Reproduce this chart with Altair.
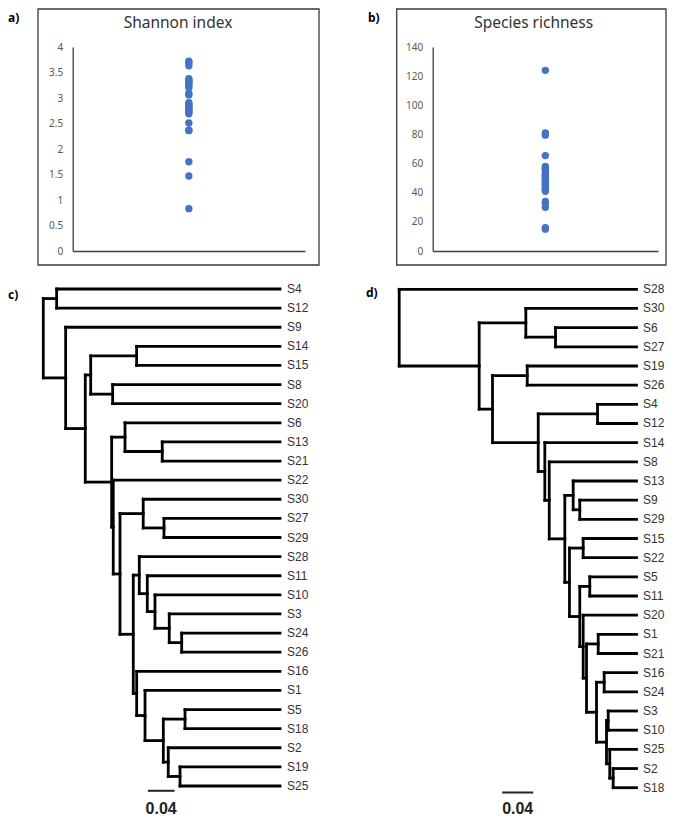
import altair as alt
import pandas as pd

# ---------------- data ----------------
shannon = [3.72, 3.69, 3.63, 3.38, 3.35, 3.32, 3.30, 3.28, 3.24, 3.20, 3.09, 3.06,
           2.91, 2.88, 2.86, 2.83, 2.80, 2.78, 2.75, 2.72, 2.69, 2.51, 2.37, 2.36,
           1.75, 1.47, 0.83]
richness = [124, 81, 79.5, 65.5, 58, 57, 56, 55, 53, 52, 51.5, 50, 49, 48.5, 47,
            46, 45.5, 44, 43, 42.5, 42, 41, 34, 33, 30, 16, 15]
shannon_ticks = [0, 0.5, 1, 1.5, 2, 2.5, 3, 3.5, 4]
richness_ticks = [0, 20, 40, 60, 80, 100, 120, 140]

leaves_c = ["S4", "S12", "S9", "S14", "S15", "S8", "S20", "S6", "S13", "S21", "S22",
            "S30", "S27", "S29", "S28", "S11", "S10", "S3", "S24", "S26", "S16", "S1",
            "S5", "S18", "S2", "S19", "S25"]
# (node, child1, child2, height)
merges_c = [
    ("c1", "S4", "S12", 0.3346),
    ("c2", "S14", "S15", 0.2148),
    ("c3", "S8", "S20", 0.2507),
    ("c4", "c2", "c3", 0.2836),
    ("c5", "S13", "S21", 0.1764),
    ("c6", "S6", "c5", 0.2322),
    ("c7", "S27", "S29", 0.1738),
    ("c8", "S30", "c7", 0.2049),
    ("c9", "S24", "S26", 0.1473),
    ("c10", "S3", "c9", 0.1659),
    ("c11", "S10", "c10", 0.1873),
    ("c12", "S11", "c11", 0.1988),
    ("c13", "S28", "c12", 0.2108),
    ("c14", "S5", "S18", 0.1423),
    ("c15", "S19", "S25", 0.1498),
    ("c16", "S2", "c15", 0.1674),
    ("c17", "c14", "c16", 0.1748),
    ("c18", "S1", "c17", 0.2022),
    ("c19", "S16", "c18", 0.2147),
    ("c20", "c13", "c19", 0.2198),
    ("c21", "c8", "c20", 0.2397),
    ("c22", "S22", "c21", 0.2498),
    ("c23", "c6", "c22", 0.2522),
    ("c24", "c4", "c23", 0.2917),
    ("c25", "S9", "c24", 0.3211),
    ("c26", "c1", "c25", 0.3546),
]

leaves_d = ["S28", "S30", "S6", "S27", "S19", "S26", "S4", "S12", "S14", "S8", "S13",
            "S9", "S29", "S15", "S22", "S5", "S11", "S20", "S1", "S21", "S16", "S24",
            "S3", "S10", "S25", "S2", "S18"]
merges_d = [
    ("d1", "S6", "S27", 0.1045),
    ("d2", "S30", "d1", 0.1428),
    ("d3", "S19", "S26", 0.1410),
    ("d4", "S4", "S12", 0.0503),
    ("d5", "S9", "S29", 0.0732),
    ("d6", "S13", "d5", 0.0817),
    ("d7", "S15", "S22", 0.0688),
    ("d8", "S5", "S11", 0.0603),
    ("d9", "S1", "S21", 0.0494),
    ("d10", "S16", "S24", 0.0417),
    ("d11", "S3", "S10", 0.0365),
    ("d12", "S2", "S18", 0.0301),
    ("d13", "S25", "d12", 0.0345),
    ("d14", "d11", "d13", 0.0387),
    ("d15", "d10", "d14", 0.0516),
    ("d16", "d9", "d15", 0.0645),
    ("d17", "S20", "d16", 0.0688),
    ("d18", "d8", "d17", 0.0732),
    ("d19", "d7", "d18", 0.0865),
    ("d20", "d6", "d19", 0.0925),
    ("d21", "S8", "d20", 0.1126),
    ("d22", "S14", "d21", 0.1183),
    ("d23", "d4", "d22", 0.1268),
    ("d24", "d3", "d23", 0.1858),
    ("d25", "d2", "d24", 0.2030),
    ("d26", "S28", "d25", 0.3062),
]

SCALE_BAR = 0.04
bar_c_start, bar_c_row, text_c_row = 0.198, 26.25, 27.2
bar_d_start, bar_d_row, text_d_row = 0.1733, 26.25, 27.12

# ---------------- layout ----------------
W, H = 659, 812
FONT = "Noto Sans"
LABEL_FONT = "Liberation Sans"


def dendro_segments(leaves, merges):
    ypos = {n: float(i) for i, n in enumerate(leaves)}
    hgt = {n: 0.0 for n in leaves}
    segs = []
    for node, a, b, h in merges:
        for ch in (a, b):
            segs.append(dict(x=hgt[ch], x2=h, y=ypos[ch], y2=ypos[ch]))
        segs.append(dict(x=h, x2=h, y=ypos[a], y2=ypos[b]))
        ypos[node] = (ypos[a] + ypos[b]) / 2
        hgt[node] = h
    return pd.DataFrame(segs)


def one():
    return pd.DataFrame({"k": [0]})


def frame(x0, x1, y0, y1):
    return alt.Chart(one()).mark_rect(filled=False, stroke="#3a3a3a", strokeWidth=1.3).encode(
        x=alt.value(x0), x2=alt.value(x1), y=alt.value(y0), y2=alt.value(y1))


def label(txt, x, y, size=12, weight="bold", font=FONT, align="left", color="#000", baseline="middle"):
    return alt.Chart(pd.DataFrame({"t": [txt]})).mark_text(
        font=font, fontSize=size, fontWeight=weight, align=align, baseline=baseline, color=color
    ).encode(x=alt.value(x), y=alt.value(y), text="t:N")


def scatter(values, ticks, fmt, xr, yr):
    df = pd.DataFrame({"x": [1] * len(values), "v": values})
    return alt.Chart(df).mark_circle(size=54, color="#4472C4", opacity=1).encode(
        x=alt.X("x:Q", scale=alt.Scale(domain=[0, 2], range=xr, nice=False, zero=False),
                axis=alt.Axis(orient="bottom", offset=-(H - yr[0]), labels=False, ticks=False,
                              grid=False, title=None, domainColor="#404040", domainWidth=1.3)),
        y=alt.Y("v:Q", scale=alt.Scale(domain=[ticks[0], ticks[-1]], range=yr, nice=False, zero=False),
                axis=alt.Axis(orient="left", offset=-xr[0], values=ticks, format=fmt, ticks=False,
                              tickSize=0, labelPadding=10, grid=False, title=None,
                              domainColor="#404040", domainWidth=1.3, labelFont=FONT,
                              labelFontSize=10, labelColor="#595959", labelFlush=False,
                              labelOverlap=False, labelBound=False)),
    )


def dendro(leaves, merges, xr, yr, bar_start, bar_row, text_row, dx):
    hroot = merges[-1][3]
    xs = alt.Scale(domain=[0, hroot], range=xr, nice=False, zero=False)
    ys = alt.Scale(domain=[0, len(leaves) - 1], range=yr, nice=False, zero=False)
    segs = dendro_segments(leaves, merges)
    lines = alt.Chart(segs).mark_rule(color="#000", strokeWidth=2.8, strokeCap="square").encode(
        x=alt.X("x:Q", scale=xs, axis=None), x2="x2:Q",
        y=alt.Y("y:Q", scale=ys, axis=None), y2="y2:Q")
    lab_df = pd.DataFrame({"x": [0.0] * len(leaves), "y": list(range(len(leaves))), "t": leaves})
    labs = alt.Chart(lab_df).mark_text(align="left", baseline="middle", dx=dx, font=LABEL_FONT,
                                       fontSize=12, color="#333").encode(
        x=alt.X("x:Q", scale=xs, axis=None), y=alt.Y("y:Q", scale=ys, axis=None), text="t:N")
    bar_df = pd.DataFrame({"x": [bar_start], "x2": [bar_start - SCALE_BAR], "y": [bar_row],
                           "xm": [bar_start - SCALE_BAR / 2], "ty": [text_row], "t": ["0.04"]})
    bar = alt.Chart(bar_df).mark_rule(color="#222", strokeWidth=2).encode(
        x=alt.X("x:Q", scale=xs, axis=None), x2="x2:Q",
        y=alt.Y("y:Q", scale=ys, axis=None))
    bar_t = alt.Chart(bar_df).mark_text(font=LABEL_FONT, fontSize=16, fontWeight="bold",
                                        color="#222", baseline="middle", align="center").encode(
        x=alt.X("xm:Q", scale=xs, axis=None), y=alt.Y("ty:Q", scale=ys, axis=None), text="t:N")
    return [lines, labs, bar, bar_t]


layers = [
    frame(30, 311, 1, 257),
    frame(388.7, 658, 1, 257),
    label("a)", 0, 9.5),
    label("b)", 360, 9.5),
    label("c)", 0, 287),
    label("d)", 358, 285),
    label("Shannon index", 170, 19.5, size=15.5, weight="normal", align="center",
          color="#333", baseline="alphabetic"),
    label("Species richness", 525.7, 19.5, size=15.5, weight="normal", align="center",
          color="#333", baseline="alphabetic"),
    scatter(shannon, shannon_ticks, ".1~f", [64.7, 297], [243, 39]),
    scatter(richness, richness_ticks, "d", [424.7, 650], [243, 39]),
]
layers += dendro(leaves_c, merges_c, [272, 35.3], [281, 778], bar_c_start, bar_c_row, text_c_row, 7)
layers += dendro(leaves_d, merges_d, [628.5, 391.2], [281.3, 779.7], bar_d_start, bar_d_row,
                 text_d_row, 6.5)

chart = alt.layer(*layers).resolve_scale(x="independent", y="independent").properties(
    width=W, height=H, autosize=alt.AutoSizeParams(type="none"), padding=0
).configure_view(stroke=None)

chart.save("out.html", embed_options={"renderer": "svg", "actions": False})
